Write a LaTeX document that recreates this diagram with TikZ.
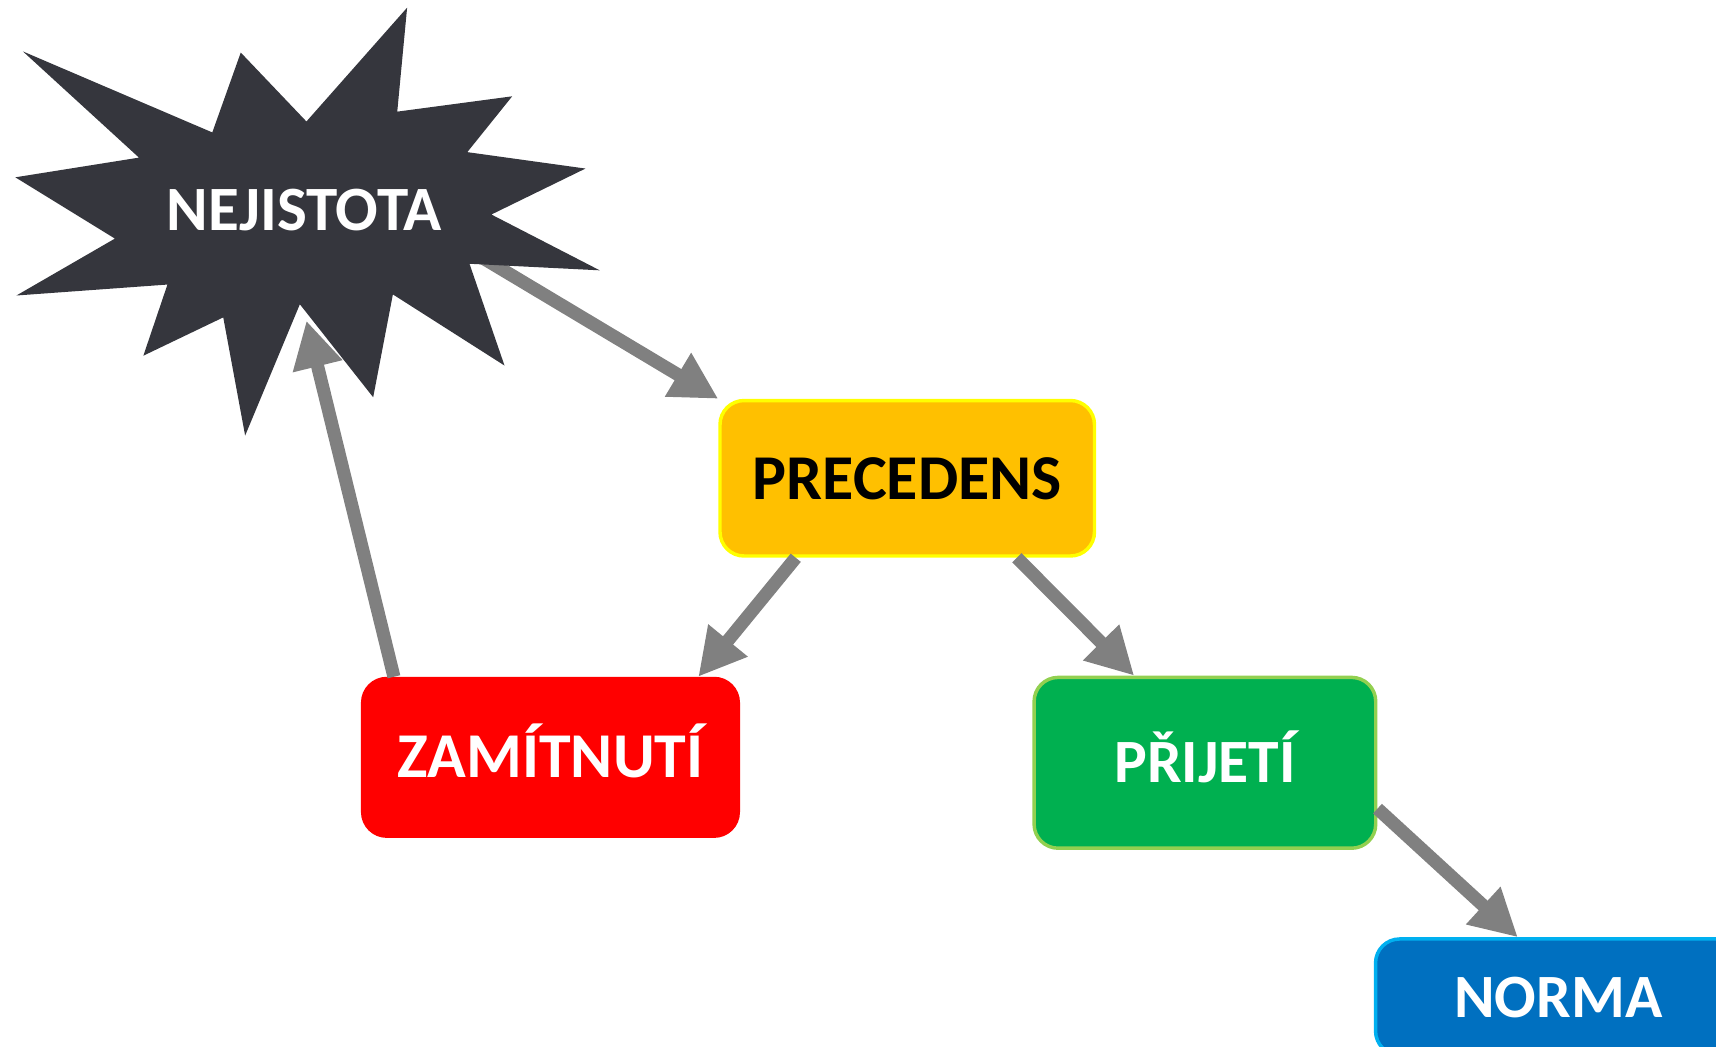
\documentclass[tikz,border=0pt]{standalone}
\usepackage{fontspec}
\setmainfont{Carlito}
\usetikzlibrary{arrows.meta,calc}
\definecolor{stargray}{HTML}{35363D}
\definecolor{arrowgray}{HTML}{808080}
\definecolor{precfill}{HTML}{FFC000}
\definecolor{precline}{HTML}{FFFF00}
\definecolor{zamfill}{HTML}{FF0000}
\definecolor{prijfill}{HTML}{00B050}
\definecolor{prijline}{HTML}{92D050}
\definecolor{normfill}{HTML}{0070C0}
\definecolor{normline}{HTML}{00B0F0}
\begin{document}
\begin{tikzpicture}[x=0.01cm, y=-0.01cm,
  box/.style={rectangle, rounded corners=0.22cm, line width=0.9pt, inner sep=0pt,
    text height=10.4pt, text depth=0pt, font=\fontsize{16}{18}\selectfont\bfseries},
  flow/.style={draw=arrowgray, line width=3.4pt, -{Triangle[length=12.2pt, width=12.4pt]}}]
  \useasboundingbox (0,0) rectangle (1568,956);
  \clip (0,0) rectangle (1568,956);
  % Boxes
  \node [box, fill=precfill, draw=precline, minimum width=3.42cm, minimum height=1.42cm,
    text height=11.2pt, font=\fontsize{16.6}{20}\selectfont\bfseries] (node-precedens) at (829,437) {PRECEDENS};
  \node [box, fill=zamfill, draw=zamfill, text=white, minimum width=3.43cm, minimum height=1.44cm,
    font=\fontsize{16.6}{18}\selectfont\bfseries] (node-zamitnuti) at (503,692) {ZAMÍTNUTÍ};
  \node [box, fill=prijfill, draw=prijline, text=white, minimum width=3.12cm, minimum height=1.56cm] (node-prijeti) at (1101,697) {PŘIJETÍ};
  \node [box, fill=normfill, draw=normline, text=white, minimum width=3.34cm, minimum height=1.06cm] (node-norma) at (1424,911) {NORMA};
  % Star ends
  \coordinate (star-out) at (440,235);
  \coordinate (star-in) at (280,293);
  % Arrows
  \draw [flow] (star-out) -- (node-precedens.north west);
  \draw [flow] ($(node-precedens.south west)!0.205!(node-precedens.south east)$) -- ($(node-zamitnuti.north west)!0.89!(node-zamitnuti.north east)$);
  \draw [flow] ($(node-precedens.south west)!0.79!(node-precedens.south east)$) -- ($(node-prijeti.north west)!0.295!(node-prijeti.north east)$);
  \draw [flow] ($(node-prijeti.north east)!0.763!(node-prijeti.south east)$) -- ($(node-norma.north west)!0.39!(node-norma.north east)$);
  \draw [flow] ($(node-zamitnuti.north west)!0.087!(node-zamitnuti.north east)$) -- (star-in);
  % Star
  \fill [stargray] (21,47) -- (194,121) -- (220,48) -- (280,111) -- (372,7) -- (363,102)
    -- (468,88) -- (427,139) -- (535,154) -- (449,196) -- (548,247) -- (429,241)
    -- (461,334) -- (359,269) -- (341,363) -- (274,278) -- (224,398) -- (204,290)
    -- (131,325) -- (153,260) -- (15,270) -- (105,218) -- (14,162) -- (127,144) -- cycle;
  \node [inner sep=0pt, text=white, text height=10.6pt, text depth=0pt,
    font=\fontsize{16.4}{18}\selectfont\bfseries] (node-nejistota) at (278,192) {NEJISTOTA};
\end{tikzpicture}
\end{document}
